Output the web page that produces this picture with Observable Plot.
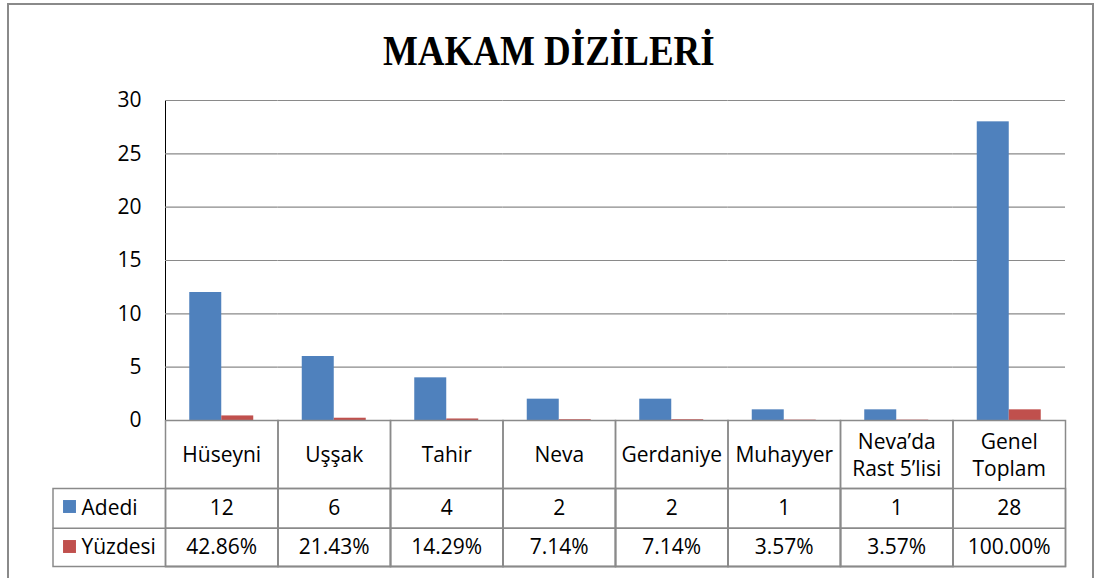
<!DOCTYPE html>
<html>
<head>
<meta charset="utf-8">
<script src="https://cdn.jsdelivr.net/npm/d3@7"></script>
<script src="https://cdn.jsdelivr.net/npm/@observablehq/plot@0.6"></script>
<style>
  html, body { margin: 0; padding: 0; background: #fff; }
  #wrap { position: relative; width: 1097px; height: 578px; overflow: hidden; }
  #border { position: absolute; left: 7px; top: 3px; width: 1087px; height: 640px;
            border: 2px solid #8a8a8a; border-bottom: none; box-sizing: border-box; }
  #title { position: absolute; left: 0; top: 30px; width: 1097px; text-align: center;
           font-family: "Liberation Serif", "Times New Roman", serif; font-weight: bold;
           font-size: 42px; line-height: 42px; color: #000; transform: scaleX(0.88); transform-origin: 551px 0; }
  #chart { position: absolute; left: 0; top: 90px; }
</style>
</head>
<body>
<div id="wrap">
  <div id="border"></div>
  <div id="title">MAKAM DİZİLERİ</div>
  <div id="chart"></div>
</div>
<script>
// ---- data ----
const categories = ["Hüseyni", "Uşşak", "Tahir", "Neva", "Gerdaniye", "Muhayyer", "Neva’da\nRast 5’lisi", "Genel\nToplam"];
const series = ["Adedi", "Yüzdesi"];
const adedi = [12, 6, 4, 2, 2, 1, 1, 28];
const yuzdesi = [0.4286, 0.2143, 0.1429, 0.0714, 0.0714, 0.0357, 0.0357, 1.0];
const yuzdesiLabels = ["42.86%", "21.43%", "14.29%", "7.14%", "7.14%", "3.57%", "3.57%", "100.00%"];
const yTicks = [0, 5, 10, 15, 20, 25, 30];
const colors = ["#4F81BD", "#C0504D"];

// ---- derived tables ----
const bars = [];
categories.forEach((c, i) => {
  bars.push({cat: c, series: "Adedi", value: adedi[i]});
  bars.push({cat: c, series: "Yüzdesi", value: yuzdesi[i]});
});
const rows = categories.map((c, i) => ({cat: c, adedi: String(adedi[i]), pct: yuzdesiLabels[i]}));
const legendA = [{cat: categories[0], series: "Adedi"}];
const legendY = [{cat: categories[0], series: "Yüzdesi"}];

const lineColor = "#8a8a8a";
const fs = 21;

const chart = Plot.plot({
  width: 1097,
  height: 488,
  marginTop: 10,
  marginBottom: 158,
  marginLeft: 165,
  marginRight: 32,
  style: {fontFamily: "'Open Sans', sans-serif", fontSize: fs + "px", color: "#000", background: "transparent", overflow: "visible"},
  fx: {domain: categories, padding: 0, round: false, axis: null, label: null},
  x: {domain: series, paddingInner: 0, paddingOuter: 0.758, round: false, axis: null},
  y: {domain: [0, 30], ticks: yTicks, tickSize: 0, tickPadding: 24, label: null, line: true},
  color: {domain: series, range: colors},
  marks: [
    Plot.ruleY(yTicks, {stroke: lineColor, strokeWidth: 1.2}),
    Plot.barY(bars, {fx: "cat", x: "series", y: "value", fill: "series"}),
    // data table
    Plot.frame({insetTop: 320, insetBottom: -146, stroke: lineColor, strokeWidth: 1.5}),
    Plot.frame({insetTop: 388, insetBottom: -146, insetLeft: -112.5, stroke: lineColor, strokeWidth: 1.5}),
    Plot.ruleY([0], {dy: 107.7, insetLeft: -112.5, stroke: lineColor, strokeWidth: 1.5}),
    Plot.text(rows, {fx: "cat", text: "cat", frameAnchor: "bottom", dy: 33, lineAnchor: "middle", lineHeight: 1.3, fontSize: fs, fill: "#000"}),
    Plot.text(rows, {fx: "cat", text: "adedi", frameAnchor: "bottom", dy: 88, lineAnchor: "middle", fontSize: fs, fill: "#000"}),
    Plot.text(rows, {fx: "cat", text: "pct", frameAnchor: "bottom", dy: 127, lineAnchor: "middle", fontSize: fs, fill: "#000"}),
    // legend keys in the table
    Plot.dot(legendA, {fx: "cat", frameAnchor: "bottom-left", dx: -96, dy: 86, symbol: "square", r: 7.3, fill: "series", stroke: null}),
    Plot.dot(legendY, {fx: "cat", frameAnchor: "bottom-left", dx: -96, dy: 126, symbol: "square", r: 7.3, fill: "series", stroke: null}),
    Plot.text(legendA, {fx: "cat", text: "series", frameAnchor: "bottom-left", dx: -84, dy: 88, textAnchor: "start", lineAnchor: "middle", fontSize: fs, fill: "#000"}),
    Plot.text(legendY, {fx: "cat", text: "series", frameAnchor: "bottom-left", dx: -84, dy: 127, textAnchor: "start", lineAnchor: "middle", fontSize: fs, fill: "#000"})
  ]
});
document.getElementById("chart").appendChild(chart);
</script>
</body>
</html>
